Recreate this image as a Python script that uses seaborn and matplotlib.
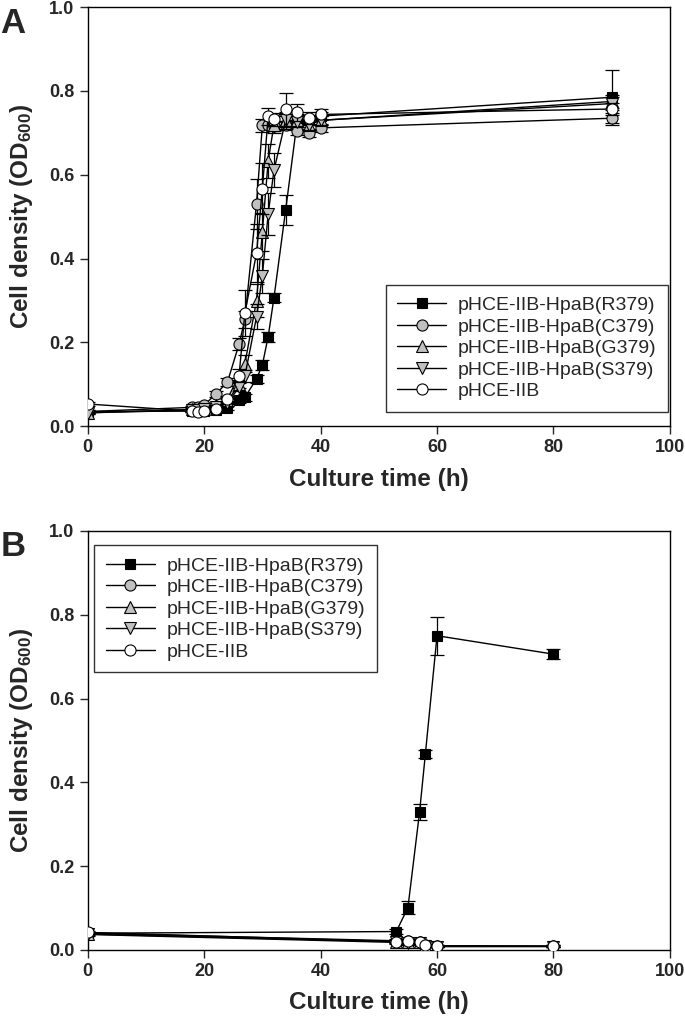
import matplotlib
matplotlib.use('Agg')
import matplotlib.pyplot as plt
import numpy as np
import seaborn as sns

# ---- panel A data ----
time_a = [0, 18, 19, 20, 22, 24, 26, 27, 29, 30, 31, 32, 34, 36, 38, 40, 90]
r379_a = [0.035, 0.036, 0.036, 0.037, 0.038, 0.043, 0.062, 0.069, 0.113, 0.146, 0.214, 0.307, 0.516, 0.730, 0.730, 0.740, 0.785]
r379_a_err = [0.003, 0.003, 0.003, 0.003, 0.004, 0.005, 0.006, 0.008, 0.010, 0.012, 0.012, 0.010, 0.035, 0.015, 0.012, 0.010, 0.065]
c379_a = [0.035, 0.045, 0.046, 0.050, 0.077, 0.105, 0.196, 0.255, 0.531, 0.718, 0.720, 0.716, 0.718, 0.705, 0.700, 0.712, 0.735]
c379_a_err = [0.003, 0.004, 0.004, 0.005, 0.008, 0.010, 0.015, 0.020, 0.060, 0.015, 0.010, 0.012, 0.010, 0.010, 0.010, 0.010, 0.012]
g379_a = [0.032, 0.040, 0.040, 0.042, 0.050, 0.060, 0.100, 0.149, 0.300, 0.464, 0.633, 0.720, 0.730, 0.730, 0.720, 0.730, 0.775]
g379_a_err = [0.003, 0.004, 0.004, 0.004, 0.005, 0.006, 0.010, 0.020, 0.040, 0.045, 0.040, 0.020, 0.015, 0.012, 0.012, 0.010, 0.015]
s379_a = [0.032, 0.038, 0.038, 0.040, 0.045, 0.055, 0.093, 0.120, 0.261, 0.359, 0.507, 0.611, 0.730, 0.725, 0.720, 0.730, 0.770]
s379_a_err = [0.003, 0.004, 0.004, 0.004, 0.005, 0.006, 0.010, 0.015, 0.030, 0.040, 0.050, 0.040, 0.020, 0.012, 0.012, 0.010, 0.015]
iib_a = [0.053, 0.036, 0.035, 0.037, 0.041, 0.065, 0.121, 0.270, 0.413, 0.567, 0.740, 0.732, 0.756, 0.749, 0.736, 0.744, 0.757]
iib_a_err = [0.004, 0.003, 0.003, 0.003, 0.004, 0.008, 0.015, 0.055, 0.070, 0.060, 0.020, 0.015, 0.040, 0.020, 0.015, 0.012, 0.015]

# ---- panel B data ----
time_b = [0, 53, 55, 57, 58, 60, 80]
r379_b = [0.040, 0.044, 0.101, 0.329, 0.468, 0.750, 0.706]
r379_b_err = [0.003, 0.005, 0.015, 0.020, 0.010, 0.045, 0.012]
c379_b = [0.040, 0.022, 0.022, 0.020, 0.012, 0.010, 0.009]
c379_b_err = [0.003, 0.003, 0.003, 0.003, 0.002, 0.002, 0.002]
g379_b = [0.038, 0.020, 0.018, 0.018, 0.010, 0.009, 0.009]
g379_b_err = [0.003, 0.003, 0.003, 0.003, 0.002, 0.002, 0.002]
s379_b = [0.037, 0.018, 0.016, 0.016, 0.009, 0.008, 0.008]
s379_b_err = [0.003, 0.003, 0.003, 0.003, 0.002, 0.002, 0.002]
iib_b = [0.042, 0.020, 0.022, 0.020, 0.012, 0.010, 0.009]
iib_b_err = [0.003, 0.003, 0.003, 0.003, 0.002, 0.002, 0.002]

labels = ['pHCE-IIB-HpaB(R379)', 'pHCE-IIB-HpaB(C379)', 'pHCE-IIB-HpaB(G379)',
          'pHCE-IIB-HpaB(S379)', 'pHCE-IIB']
markers = ['s', 'o', '^', 'v', 'o']
faces = ['black', '#c0c0c0', '#c0c0c0', '#c0c0c0', 'white']

sns.set_style("ticks")
plt.rcParams['font.family'] = ['Liberation Sans', 'DejaVu Sans']
plt.rcParams['mathtext.default'] = 'regular'

legend_loc = {'A': ('lower right', (1.003, 0.025)), 'B': ('upper left', (0.005, 0.975))}


def draw_panel(ax, t, series, errs, letter):
    for n, (y, e) in enumerate(zip(series, errs)):
        ax.errorbar(t, y, yerr=e, fmt='none', ecolor='black', elinewidth=0.9,
                    capsize=5, capthick=0.9, zorder=2 + n)
        sns.lineplot(x=t, y=y, ax=ax, color='black', linewidth=1.0, marker=markers[n],
                     markersize=8 if markers[n] != 's' else 7.5, markerfacecolor=faces[n],
                     markeredgecolor='black', markeredgewidth=0.8, label=labels[n],
                     zorder=3 + n)

    ax.set_xlim(0, 100)
    ax.set_ylim(0, 1.0)
    ax.set_xticks(np.arange(0, 101, 20))
    ax.set_yticks(np.arange(0, 1.01, 0.2))
    ax.set_yticklabels([f'{v:.1f}' for v in np.arange(0, 1.01, 0.2)])
    ax.tick_params(direction='out', length=6, width=1, labelsize=13, top=False, right=False)
    for lab in ax.get_xticklabels() + ax.get_yticklabels():
        lab.set_fontweight('bold')
    for sp in ax.spines.values():
        sp.set_visible(True)
        sp.set_linewidth(1.0)
        sp.set_color('black')
    ax.set_xlabel('Culture time (h)', fontsize=17.5, fontweight='bold', labelpad=8)
    ax.set_ylabel('Cell density (OD$_{600}$)', fontsize=17.5, fontweight='bold', labelpad=10)
    ax.text(-0.150, 0.962, letter, transform=ax.transAxes, fontsize=25, fontweight='bold',
            ha='left', va='center')
    loc, anchor = legend_loc[letter]
    leg = ax.legend(loc=loc, bbox_to_anchor=anchor, fontsize=14, frameon=True, fancybox=False,
                    edgecolor='black', handlelength=2.5, borderpad=0.6, labelspacing=0.2,
                    handletextpad=0.6, borderaxespad=0.2)
    leg.get_frame().set_linewidth(1.0)


fig = plt.figure(figsize=(6.85, 10.27), dpi=100)
ax_a = fig.add_axes([0.128, 0.585, 0.850, 0.408])
ax_b = fig.add_axes([0.128, 0.075, 0.850, 0.408])

draw_panel(ax_a, time_a, [r379_a, c379_a, g379_a, s379_a, iib_a],
           [r379_a_err, c379_a_err, g379_a_err, s379_a_err, iib_a_err], 'A')
draw_panel(ax_b, time_b, [r379_b, c379_b, g379_b, s379_b, iib_b],
           [r379_b_err, c379_b_err, g379_b_err, s379_b_err, iib_b_err], 'B')

plt.savefig('out.png', dpi=100)
plt.close()
